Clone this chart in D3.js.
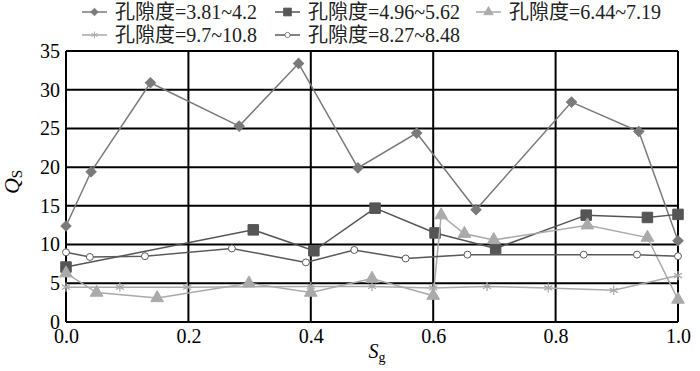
<!DOCTYPE html>
<html>
<head>
<meta charset="utf-8">
<script src="https://cdn.jsdelivr.net/npm/d3@7"></script>
<style>
  body { margin: 0; background: #fff; }
  svg text { font-family: "Liberation Serif", "Times New Roman", "DejaVu Serif", "Noto Sans CJK SC", serif; }
</style>
</head>
<body>
<div id="chart"></div>
<script>
// Series data (Sg, Qs)
const labels = ["孔隙度=3.81~4.2", "孔隙度=4.96~5.62", "孔隙度=6.44~7.19", "孔隙度=9.7~10.8", "孔隙度=8.27~8.48"];

const sg1 = [0, 0.041, 0.138, 0.283, 0.380, 0.477, 0.573, 0.670, 0.826, 0.936, 1.0];
const qs1 = [12.4, 19.4, 30.9, 25.3, 33.4, 19.9, 24.4, 14.5, 28.4, 24.6, 10.5];

const sg2 = [0, 0.306, 0.405, 0.505, 0.603, 0.702, 0.850, 0.950, 1.0];
const qs2 = [7.1, 11.9, 9.2, 14.7, 11.5, 9.5, 13.8, 13.5, 13.9];

const sg3 = [0, 0.050, 0.149, 0.299, 0.400, 0.500, 0.600, 0.613, 0.651, 0.699, 0.852, 0.950, 1.0];
const qs3 = [6.3, 3.8, 3.1, 5.0, 3.8, 5.6, 3.4, 13.8, 11.4, 10.6, 12.5, 10.9, 2.9];

const sg4 = [0, 0.088, 0.198, 0.400, 0.500, 0.600, 0.688, 0.788, 0.895, 1.0];
const qs4 = [4.5, 4.5, 4.5, 4.6, 4.6, 4.4, 4.6, 4.4, 4.1, 6.0];

const sg5 = [0, 0.039, 0.129, 0.271, 0.392, 0.471, 0.555, 0.656, 0.846, 0.933, 1.0];
const qs5 = [9.0, 8.4, 8.5, 9.5, 7.7, 9.3, 8.2, 8.7, 8.7, 8.7, 8.5];

const xTicks = [0, 0.2, 0.4, 0.6, 0.8, 1.0];
const yTicks = [0, 5, 10, 15, 20, 25, 30, 35];

const serif = "'Liberation Serif', 'Times New Roman', 'DejaVu Serif', 'Noto Sans CJK SC', serif";

const series = [
  { name: labels[0], sg: sg1, qs: qs1, line: "#7a7a7a", fill: "#7a7a7a", shape: "diamond" },
  { name: labels[1], sg: sg2, qs: qs2, line: "#555555", fill: "#555555", shape: "square" },
  { name: labels[2], sg: sg3, qs: qs3, line: "#aaaaaa", fill: "#aaaaaa", shape: "triangle" },
  { name: labels[3], sg: sg4, qs: qs4, line: "#aaaaaa", fill: "none", shape: "asterisk" },
  { name: labels[4], sg: sg5, qs: qs5, line: "#5a5a5a", fill: "#fff", shape: "circle" }
];

const width = 700, height = 371;
const margin = { top: 51, right: 22, bottom: 49, left: 66 };
const w = width - margin.left - margin.right;
const h = height - margin.top - margin.bottom;

const svg = d3.select("#chart").append("svg")
  .attr("width", width)
  .attr("height", height);

const g = svg.append("g")
  .attr("transform", `translate(${margin.left},${margin.top})`);

const x = d3.scaleLinear().domain([0, 1]).range([0, w]);
const y = d3.scaleLinear().domain([0, 35]).range([h, 0]);

// grid
g.selectAll(".hgrid").data(yTicks).enter().append("line")
  .attr("x1", 0).attr("x2", w)
  .attr("y1", d => y(d)).attr("y2", d => y(d))
  .attr("stroke", "#000").attr("stroke-width", 2);
g.selectAll(".vgrid").data(xTicks).enter().append("line")
  .attr("x1", d => x(d)).attr("x2", d => x(d))
  .attr("y1", 0).attr("y2", h)
  .attr("stroke", "#000").attr("stroke-width", 2);

// axes (labels only)
const xAxis = g.append("g")
  .attr("transform", `translate(0,${h})`)
  .call(d3.axisBottom(x).tickValues(xTicks).tickFormat(d3.format(".1f")).tickSize(0).tickPadding(7));
const yAxis = g.append("g")
  .call(d3.axisLeft(y).tickValues(yTicks).tickSize(0).tickPadding(6));
[xAxis, yAxis].forEach(a => {
  a.attr("font-family", serif).attr("font-size", 20);
  a.select(".domain").remove();
  a.selectAll("text").attr("fill", "#000");
});

function symbolPath(shape) {
  if (shape === "diamond") return d3.symbol(d3.symbolSquare, 52)();
  if (shape === "square") return d3.symbol(d3.symbolSquare, 110)();
  if (shape === "triangle") return d3.symbol(d3.symbolTriangle, 70)();
  if (shape === "asterisk") return d3.symbol(d3.symbolAsterisk, 60)();
  return d3.symbol(d3.symbolCircle, 38)();
}

function drawMarker(sel, s) {
  sel.append("path")
    .attr("d", symbolPath(s.shape))
    .attr("transform", s.shape === "diamond" ? "rotate(45)" : null)
    .attr("fill", s.fill)
    .attr("stroke", s.line)
    .attr("stroke-width", s.shape === "asterisk" ? 1.3 : 1);
}

const line = d3.line().x(d => x(d[0])).y(d => y(d[1]));

series.forEach(s => {
  const pts = s.sg.map((v, i) => [v, s.qs[i]]);
  g.append("path")
    .datum(pts)
    .attr("d", line)
    .attr("fill", "none")
    .attr("stroke", s.line)
    .attr("stroke-width", 1.5);
  g.selectAll(null).data(pts).enter().append("g")
    .attr("transform", d => `translate(${x(d[0])},${y(d[1])})`)
    .each(function() { drawMarker(d3.select(this), s); });
});

// legend
const legendPos = [[82, 12], [275, 12], [476, 12], [82, 35], [275, 35]];
series.forEach((s, i) => {
  const lg = svg.append("g").attr("transform", `translate(${legendPos[i][0]},${legendPos[i][1]})`);
  lg.append("line").attr("x1", 0).attr("x2", 25).attr("y1", 0).attr("y2", 0)
    .attr("stroke", s.line).attr("stroke-width", 1.5);
  const m = lg.append("g").attr("transform", "translate(12.5,0) scale(0.75)");
  drawMarker(m, s);
  lg.append("text").attr("x", 33).attr("y", 7)
    .attr("font-family", serif)
    .attr("font-size", 20).attr("fill", "#222")
    .text(s.name);
});

// axis titles
const yt = svg.append("text")
  .attr("transform", "translate(19,182) rotate(-90)")
  .attr("text-anchor", "middle")
  .attr("font-family", serif)
  .attr("font-size", 22).attr("fill", "#000");
yt.append("tspan").attr("font-style", "italic").text("Q");
yt.append("tspan").attr("font-size", 15).attr("dy", 3).text("S");

const xt = svg.append("text")
  .attr("x", 377).attr("y", 358)
  .attr("text-anchor", "middle")
  .attr("font-family", serif)
  .attr("font-size", 20).attr("fill", "#000");
xt.append("tspan").attr("font-style", "italic").text("S");
xt.append("tspan").attr("font-size", 14).attr("dy", 4).text("g");
</script>
</body>
</html>
